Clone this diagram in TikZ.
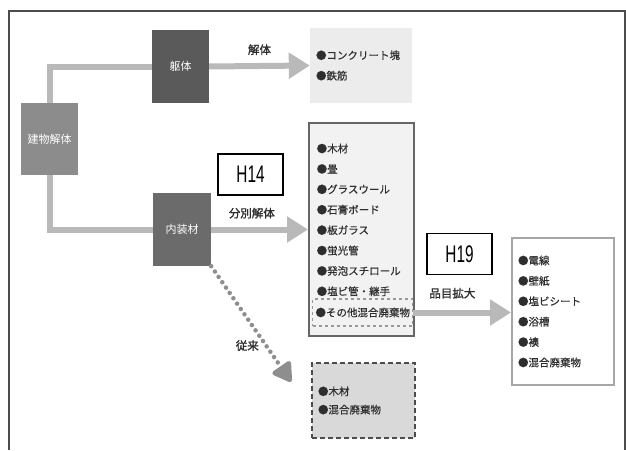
\documentclass[tikz,border=0pt]{standalone}
\usepackage{fontspec}
\usepackage{graphicx}
\newfontfamily\jp{Noto Sans CJK JP}
\newfontfamily\jpitem[FakeBold=0.5]{Noto Sans CJK JP}
\newfontfamily\jplbl[FakeBold=1.3]{Noto Sans CJK JP}
\newfontfamily\hfont{Liberation Sans}
\usetikzlibrary{positioning,arrows.meta}
\definecolor{connGray}{HTML}{B9B9B9}
\definecolor{dotGray}{HTML}{8E8E8E}
\definecolor{bldgGray}{HTML}{8C8C8C}
\definecolor{darkGray}{HTML}{5A5A5A}
\definecolor{paleGray}{HTML}{ECECEC}
\definecolor{inkGray}{HTML}{2E2E2E}
\newcommand{\yearlabel}[1]{\scalebox{0.64}[1]{\fontsize{24}{24}\selectfont #1}}
\tikzset{
  stagebox/.style={inner sep=0pt, font=\jp\fontsize{11}{13}\selectfont, text=white},
  listbox/.style={inner xsep=6pt, inner ysep=0pt, align=left, font=\jpitem\fontsize{10.5}{20.4}\selectfont, text=inkGray},
  yearbox/.style={draw=black, line width=1.2pt, fill=white, minimum width=65pt, minimum height=41pt, inner sep=0pt, font=\hfont},
  lbl/.style={font=\jplbl\fontsize{11.5}{13}\selectfont, text=inkGray, inner sep=0pt},
  conn/.style={draw=connGray, line width=6pt},
  connarrow/.style={conn, -{Triangle[length=21pt,width=25pt]}, connGray},
  dotconn/.style={draw=dotGray, line width=4.5pt, line cap=round, dash pattern=on 0pt off 6.5pt, -{Triangle[length=21pt,width=24pt,round=false]}, dotGray}
}
\begin{document}
\begin{tikzpicture}[x=1pt,y=-1pt]
\useasboundingbox (0,0) rectangle (626,450);
\fill[white] (0,0) rectangle (626,450);
% Frame
\draw[line width=1.2pt, draw=black!70] (9,450) -- (9,11) -- (625,11) -- (625,450);

% Stages
\node[stagebox, fill=bldgGray, minimum width=57pt, minimum height=72pt] (bldg) at (49.5,139) {建物解体};
\node[stagebox, fill=darkGray, minimum width=57pt, minimum height=73pt] (kutai) at (180.5,66.5) {躯体};
\node[stagebox, fill=darkGray!90!white, minimum width=58pt, minimum height=73pt] (naiso) at (182,229.5) {内装材};

% Outputs
\node[listbox, fill=paleGray, minimum width=102pt, minimum height=75pt, text width=90pt] (conc) at (361,65.5) {●コンクリート塊\\●鉄筋};
\node[fill=paleGray!70!white, draw=black!60, line width=2pt, minimum width=105pt, minimum height=213pt] (sorted) at (361.5,229.5) {};
\node[listbox, inner xsep=0pt, anchor=north west] (sortedlist) at (316.5,143.5) {●木材\\●畳\\●グラスウール\\●石膏ボード\\●板ガラス\\●蛍光管\\●発泡スチロール\\●塩ビ管・継手};
\node[listbox, draw=black!40, dashed, line width=1.5pt, inner xsep=3pt, minimum width=100pt, minimum height=27pt, text width=94pt] (others) at (362.5,312.5) {●その他混合廃棄物};
\node[listbox, fill=white, draw=black!35, line width=2pt, minimum width=102pt, minimum height=147pt, text width=90pt] (ext) at (563,311.5) {●電線\\●壁紙\\●塩ビシート\\●浴槽\\●襖\\●混合廃棄物};
\node[listbox, fill=black!15, draw=black!70, line width=2pt, dash pattern=on 5pt off 3pt, minimum width=103pt, minimum height=75pt, text width=91pt, font=\jpitem\fontsize{10.5}{18.3}\selectfont] (old) at (363.5,400.5) {●木材\\●混合廃棄物};

% Years
\node[yearbox] (h14) at (250.5,174.5) {\yearlabel{H14}};
\node[yearbox] (h19) at (459.5,254) {\yearlabel{H19}};

% Arrows
\draw[conn] (bldg.north) |- (kutai.west);
\draw[connarrow] (kutai.east) -- node[lbl, above=8pt] {解体} (conc.west);
\draw[conn] (bldg.south) |- (naiso.west);
\draw[connarrow] (naiso.east) -- node[lbl, pos=0.42, above=8pt] {分別解体} (sorted.west);
\draw[connarrow] (others.east) -- node[lbl, pos=0.4, above=11pt] {品目拡大} (others.east -| ext.west);
\draw[dotconn, shorten >=35pt] (naiso.south east) -- node[lbl, pos=0.55, left=5pt] {従来} ([yshift=-10pt]old.west);

\end{tikzpicture}
\end{document}
